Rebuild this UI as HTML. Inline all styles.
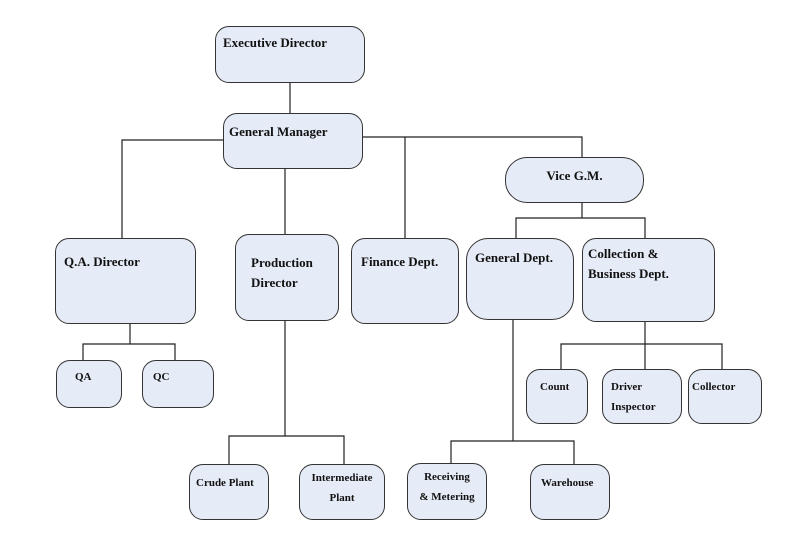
<!DOCTYPE html>
<html><head><meta charset="utf-8"><style>
body{margin:0;width:803px;height:536px;background:#fff;position:relative;overflow:hidden;font-family:"Liberation Serif","Noto Serif CJK SC",serif;font-weight:bold;color:#111}
.b{position:absolute;box-sizing:border-box;background:#e6ecf7;border:1.3px solid #333;border-radius:14px;font-size:13px;line-height:20px;padding:6px 6px;white-space:nowrap}
.s{font-size:11px;line-height:20px}
svg{position:absolute;left:0;top:0}
</style></head><body>
<svg width="803" height="536" fill="none" stroke="#222" stroke-width="1.2">
<path d="M290 83V113M223 140H122V238M285 169V234M363 137H582V157M405 137V238M582 203V218M516 238V218H645V238M130 324V344M83 360V344H175V360M285 321V436M229 464V436H344V464M513 320V441M451 463V441H574V464M645 322V369M561 369V344H722V369"/>
</svg>
<div class="b" style="left:215px;top:26px;width:150px;height:57px;padding-left:7px">Executive Director</div>
<div class="b" style="left:223px;top:113px;width:140px;height:56px;padding-left:5px;padding-top:8px">General Manager</div>
<div class="b" style="left:505px;top:157px;width:139px;height:46px;border-radius:22px;text-align:center;padding-top:8px">Vice G.M.</div>
<div class="b" style="left:55px;top:238px;width:141px;height:86px;padding-left:8px;padding-top:13px">Q.A. Director</div>
<div class="b" style="left:235px;top:234px;width:104px;height:87px;padding-left:15px;padding-top:18px">Production<br>Director</div>
<div class="b" style="left:351px;top:238px;width:108px;height:86px;padding-left:9px;padding-top:13px">Finance Dept.</div>
<div class="b" style="left:466px;top:238px;width:108px;height:82px;border-radius:22px;padding-left:8px;padding-top:9px">General Dept.</div>
<div class="b" style="left:582px;top:238px;width:133px;height:84px;padding-left:5px;padding-top:5px">Collection &amp;<br>Business Dept.</div>
<div class="b s" style="left:56px;top:360px;width:66px;height:48px;padding-left:18px;padding-top:6px">QA</div>
<div class="b s" style="left:142px;top:360px;width:72px;height:48px;padding-left:10px;padding-top:6px">QC</div>
<div class="b s" style="left:526px;top:369px;width:62px;height:55px;padding-left:13px;padding-top:7px">Count</div>
<div class="b s" style="left:602px;top:369px;width:80px;height:55px;padding-left:8px;padding-top:7px">Driver<br>Inspector</div>
<div class="b s" style="left:688px;top:369px;width:74px;height:55px;padding-left:3px;padding-top:7px">Collector</div>
<div class="b s" style="left:189px;top:464px;width:80px;height:56px;padding-left:6px;padding-top:8px">Crude Plant</div>
<div class="b s" style="left:299px;top:464px;width:86px;height:56px;text-align:center;padding:3px 0">Intermediate<br>Plant</div>
<div class="b s" style="left:407px;top:463px;width:80px;height:57px;text-align:center;padding:3px 0">Receiving<br>&amp; Metering</div>
<div class="b s" style="left:530px;top:464px;width:80px;height:56px;padding-left:10px;padding-top:8px">Warehouse</div>
</body></html>
